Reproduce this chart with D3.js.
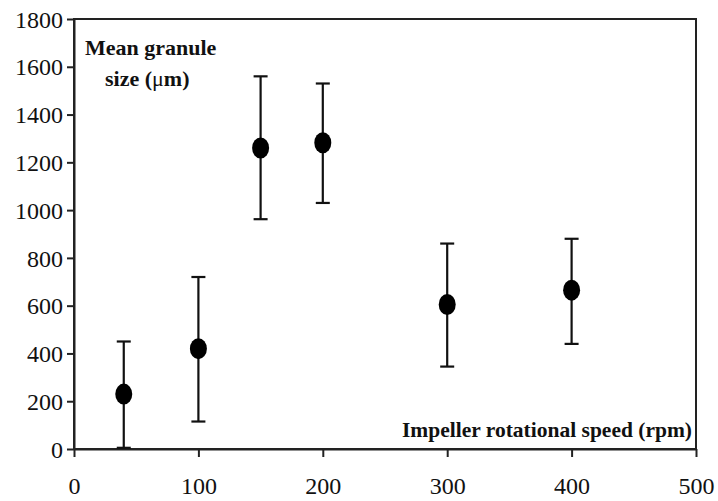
<!DOCTYPE html>
<html>
<head>
<meta charset="utf-8">
<script src="https://cdn.jsdelivr.net/npm/d3@7/dist/d3.min.js"></script>
<style>
  html, body { margin: 0; padding: 0; background: #fff; }
  svg { display: block; }
</style>
</head>
<body>
<svg id="chart" width="718" height="501"></svg>
<script>
// Impeller speed (rpm) vs. mean granule size (µm) with error ranges
const speeds = [40, 100, 150, 200, 300, 400];
const meanSize = [230, 420, 1260, 1282, 605, 665];
const upper = [450, 720, 1560, 1530, 860, 880];
const lower = [5, 115, 962, 1030, 345, 440];
const xTicks = [0, 100, 200, 300, 400, 500];
const yTicks = [0, 200, 400, 600, 800, 1000, 1200, 1400, 1600, 1800];

const serif = "'Liberation Serif', 'Times New Roman', Times, serif";
const svg = d3.select("#chart");
const plotL = 74, plotR = 696, plotT = 19, plotB = 449;

const x = d3.scaleLinear().domain([0, 500]).range([plotL, plotR]);
const y = d3.scaleLinear().domain([0, 1800]).range([plotB, plotT]);

const data = speeds.map((s, i) => ({ s, m: meanSize[i], hi: upper[i], lo: lower[i] }));

// frame
svg.append("rect")
  .attr("x", plotL).attr("y", plotT)
  .attr("width", plotR - plotL).attr("height", plotB - plotT)
  .attr("fill", "none").attr("stroke", "#222").attr("stroke-width", 2);

// axes
const fmt = d3.format("d");
const xAxis = svg.append("g")
  .attr("transform", `translate(0,${plotB})`)
  .call(d3.axisBottom(x).tickValues(xTicks).tickFormat(fmt).tickSize(8).tickPadding(20).tickSizeOuter(0));
const yAxis = svg.append("g")
  .attr("transform", `translate(${plotL},0)`)
  .call(d3.axisLeft(y).tickValues(yTicks).tickFormat(fmt).tickSize(7).tickPadding(4).tickSizeOuter(0));
[xAxis, yAxis].forEach(g => {
  g.attr("font-family", serif).attr("font-size", 24);
  g.select(".domain").attr("stroke", "#222").attr("stroke-width", 2);
  g.selectAll(".tick line").attr("stroke", "#222").attr("stroke-width", 2);
  g.selectAll(".tick text").attr("fill", "#111");
});
xAxis.selectAll(".tick text").attr("dy", "0.71em");
yAxis.selectAll(".tick text").attr("dy", "0.34em");

// error bars
const capW = 7;
const eb = svg.append("g").attr("stroke", "#111").attr("stroke-width", 2.2);
eb.selectAll("line.v").data(data).join("line").attr("class", "v")
  .attr("x1", d => x(d.s)).attr("x2", d => x(d.s))
  .attr("y1", d => y(d.hi)).attr("y2", d => y(d.lo));
eb.selectAll("line.t").data(data).join("line").attr("class", "t")
  .attr("x1", d => x(d.s) - capW).attr("x2", d => x(d.s) + capW)
  .attr("y1", d => y(d.hi)).attr("y2", d => y(d.hi));
eb.selectAll("line.b").data(data).join("line").attr("class", "b")
  .attr("x1", d => x(d.s) - capW).attr("x2", d => x(d.s) + capW)
  .attr("y1", d => y(d.lo)).attr("y2", d => y(d.lo));

// markers
svg.append("g").selectAll("ellipse").data(data).join("ellipse")
  .attr("cx", d => x(d.s)).attr("cy", d => y(d.m))
  .attr("rx", 8.5).attr("ry", 10.5)
  .attr("fill", "#000");

// axis titles inside the plot
const lbl = svg.append("g")
  .attr("font-family", serif).attr("font-weight", "bold").attr("fill", "#111");
lbl.append("text").attr("x", 85).attr("y", 55).attr("font-size", 22).text("Mean granule");
const t2 = lbl.append("text").attr("x", 105).attr("y", 86).attr("font-size", 22);
t2.append("tspan").text("size (");
t2.append("tspan").attr("font-weight", "normal").text("μ");
t2.append("tspan").text("m)");
lbl.append("text").attr("x", 692).attr("y", 437).attr("font-size", 21.5)
  .attr("text-anchor", "end").text("Impeller rotational speed (rpm)");
</script>
</body>
</html>
